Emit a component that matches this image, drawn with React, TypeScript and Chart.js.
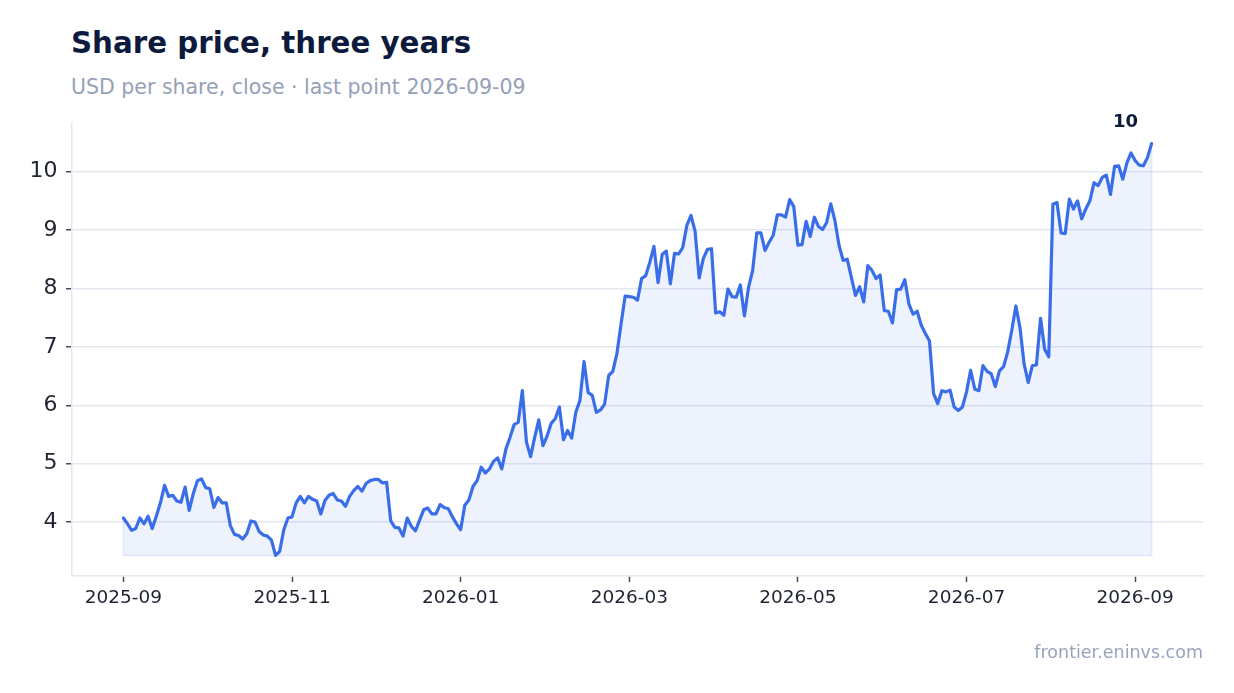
import React, { useRef, useEffect } from "react";
import { Chart, registerables } from "chart.js";

Chart.register(...registerables);

// daily-ish closes, 2025-09-01 .. 2026-09-09
const closes: number[] = [
  4.07, 3.97, 3.86, 3.89, 4.07, 3.97, 4.1, 3.89, 4.1, 4.33,
  4.63, 4.44, 4.46, 4.36, 4.34, 4.6, 4.2, 4.49, 4.71, 4.74,
  4.59, 4.57, 4.25, 4.42, 4.33, 4.33, 3.94, 3.79, 3.77, 3.71,
  3.8, 4.02, 4.0, 3.84, 3.78, 3.76, 3.69, 3.43, 3.5, 3.87,
  4.07, 4.09, 4.33, 4.44, 4.33, 4.44,
  4.39, 4.36, 4.14, 4.37, 4.46, 4.49, 4.38, 4.36, 4.27, 4.44,
  4.54, 4.61, 4.53, 4.66, 4.71, 4.73, 4.73, 4.67, 4.68, 4.02,
  3.91, 3.9, 3.76, 4.07, 3.93, 3.85, 4.03, 4.21, 4.24, 4.14,
  4.14, 4.3, 4.25, 4.23, 4.09, 3.97, 3.87, 4.29, 4.38, 4.61,
  4.71, 4.94,
  4.84, 4.91, 5.04, 5.1, 4.91, 5.25, 5.45, 5.67, 5.71, 6.25,
  5.37, 5.12, 5.45, 5.75, 5.31, 5.47, 5.69, 5.77, 5.97, 5.41,
  5.57, 5.44, 5.88, 6.08, 6.75, 6.22, 6.17, 5.88, 5.92, 6.02,
  6.51, 6.58, 6.89, 7.39, 7.87, 7.86, 7.85, 7.8,
  8.17, 8.22, 8.45, 8.72, 8.1, 8.58, 8.64, 8.08, 8.6, 8.59,
  8.7, 9.08, 9.25, 8.98, 8.18, 8.51, 8.67, 8.68, 7.58, 7.6,
  7.54, 7.99, 7.86, 7.85, 8.06, 7.53, 8.02, 8.31, 8.95, 8.95,
  8.65, 8.79, 8.91, 9.26, 9.26, 9.22,
  9.52, 9.4, 8.74, 8.75, 9.15, 8.89, 9.22, 9.06, 9.01, 9.13,
  9.45, 9.16, 8.74, 8.48, 8.5, 8.19, 7.88, 8.03, 7.77, 8.39,
  8.31, 8.17, 8.23, 7.62, 7.61, 7.41, 7.98, 7.99, 8.15, 7.73,
  7.56, 7.61, 7.37, 7.23, 7.1, 6.2, 6.03, 6.25, 6.23, 6.26,
  5.97, 5.91,
  5.97, 6.23, 6.6, 6.28, 6.25, 6.68, 6.58, 6.54, 6.32, 6.59,
  6.66, 6.91, 7.28, 7.7, 7.33, 6.71, 6.39, 6.68, 6.69, 7.49,
  6.96, 6.83, 9.44, 9.47, 8.95, 8.94, 9.53, 9.36, 9.5, 9.19,
  9.36, 9.5, 9.81, 9.76, 9.9, 9.94, 9.61, 10.09, 10.1, 9.87,
  10.15, 10.32, 10.19, 10.11, 10.1, 10.24, 10.48,
];

// x ticks sit on point indexes, every two months
const monthTickIdx = [0, 41, 82, 123, 164, 205, 246];
const monthTickLabels = ["2025-09", "2025-11", "2026-01", "2026-03", "2026-05", "2026-07", "2026-09"];
const priceTicks = [4, 5, 6, 7, 8, 9, 10];

const FONT = "'DejaVu Sans', sans-serif";
const LINE = "#3a6ee8";
const GRID = "#e3e7ef";
const TICK = "#454a58";
const INK = "#1f2433";

const App: React.FC = () => {
  const canvasRef = useRef<HTMLCanvasElement | null>(null);

  useEffect(() => {
    if (!canvasRef.current) return;
    const lo = Math.min(...closes);
    const hi = Math.max(...closes);
    const last = closes.length - 1;
    const padY = (hi - lo) * 0.05;
    const padX = last * 0.05;
    const points = closes.map((y, x) => ({ x, y }));
    // faint outline of the shaded area (sides + floor)
    const edge = [
      { x: 0, y: closes[0] },
      { x: 0, y: lo },
      { x: last, y: lo },
      { x: last, y: closes[last] },
    ];

    const endLabel = {
      id: "endLabel",
      afterDatasetsDraw(chart: any) {
        const meta = chart.getDatasetMeta(0);
        const pt = meta.data[meta.data.length - 1];
        const ctx = chart.ctx;
        ctx.save();
        ctx.font = `bold 18px ${FONT}`;
        ctx.fillStyle = "#0c1a3d";
        ctx.textAlign = "center";
        ctx.textBaseline = "middle";
        ctx.fillText(String(Math.round(closes[last])), pt.x - 26, pt.y - 21);
        ctx.restore();
      },
    };

    const chart = new Chart(canvasRef.current, {
      type: "line",
      data: {
        datasets: [
          {
            data: points,
            borderColor: LINE,
            borderWidth: 3.2,
            borderJoinStyle: "round",
            borderCapStyle: "round",
            pointRadius: 0,
            tension: 0,
            fill: { target: { value: lo } },
            backgroundColor: "rgba(58,110,232,0.09)",
          },
          {
            data: edge,
            borderColor: "rgba(58,110,232,0.13)",
            borderWidth: 1.5,
            pointRadius: 0,
            fill: false,
          },
        ],
      },
      options: {
        animation: false,
        responsive: false,
        layout: { padding: { top: 123, right: 31, left: 0, bottom: 0 } },
        plugins: { legend: { display: false }, tooltip: { enabled: false } },
        scales: {
          x: {
            type: "linear",
            min: -padX,
            max: last + padX,
            afterBuildTicks: (s: any) => {
              s.ticks = monthTickIdx.map((v) => ({ value: v }));
            },
            afterFit: (s: any) => {
              s.height = 117;
            },
            ticks: {
              autoSkip: false,
              maxRotation: 0,
              padding: 5,
              color: INK,
              font: { family: FONT, size: 18.5 },
              callback: (_v: any, i: number) => monthTickLabels[i],
            },
            grid: { drawOnChartArea: false, tickLength: 6, tickColor: TICK, tickWidth: 1.5 },
            border: { color: GRID, width: 1.5 },
          },
          y: {
            min: lo - padY,
            max: hi + padY,
            afterBuildTicks: (s: any) => {
              s.ticks = priceTicks.map((v) => ({ value: v }));
            },
            afterFit: (s: any) => {
              s.width = 72;
            },
            ticks: { padding: 8.5, color: INK, font: { family: FONT, size: 22 } },
            grid: { color: GRID, lineWidth: 1.5, tickLength: 6, tickColor: TICK, tickWidth: 1.5 },
            border: { color: GRID, width: 1.5 },
          },
        },
      },
      plugins: [endLabel],
    } as any);

    return () => chart.destroy();
  }, []);

  return (
    <div
      style={{
        position: "absolute",
        left: 0,
        top: 0,
        width: 1234,
        height: 693,
        background: "#fff",
        fontFamily: FONT,
        overflow: "hidden",
      }}
    >
      <div
        style={{
          position: "absolute",
          left: 71,
          top: 29,
          fontSize: 29.3,
          lineHeight: "29px",
          fontWeight: "bold",
          color: "#0c1a3d",
          whiteSpace: "nowrap",
        }}
      >
        Share price, three years
      </div>
      <div
        style={{
          position: "absolute",
          left: 71,
          top: 77,
          fontSize: 20.5,
          lineHeight: "20px",
          color: "#95a1b8",
          whiteSpace: "nowrap",
        }}
      >
        USD per share, close · last point 2026-09-09
      </div>
      <canvas
        ref={canvasRef}
        width={1234}
        height={693}
        style={{ position: "absolute", left: 0, top: 0, width: 1234, height: 693 }}
      />
      <div
        style={{
          position: "absolute",
          right: 31,
          top: 644,
          fontSize: 17.5,
          lineHeight: "17.5px",
          color: "#97a4bb",
          whiteSpace: "nowrap",
        }}
      >
        frontier.eninvs.com
      </div>
    </div>
  );
};

export default App;
